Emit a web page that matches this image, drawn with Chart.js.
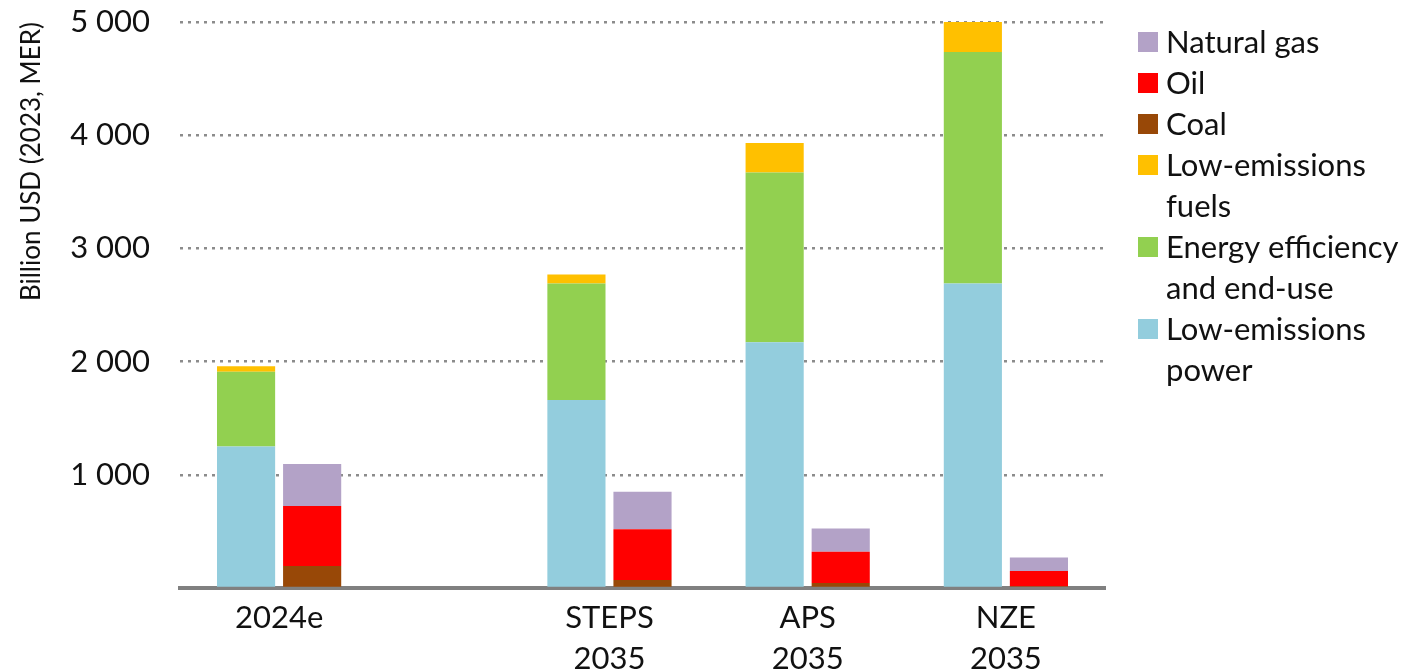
<!DOCTYPE html>
<html>
<head>
<meta charset="utf-8">
<script src="https://cdn.jsdelivr.net/npm/chart.js@4"></script>
<style>
  body { margin: 0; background: #fff; }
  #wrap { width: 1412px; height: 671px; }
</style>
</head>
<body>
<div id="wrap"><canvas id="myChart" width="1412" height="671"></canvas></div>
<script>
// cases shown on the x axis
const groups = ['2024e', ['STEPS', '2035'], ['APS', '2035'], ['NZE', '2035']];

// clean energy stack (billion USD)
const lowEmissionsPower = [1250, 1660, 2170, 2690];
const efficiencyEndUse = [660, 1030, 1500, 2045];
const lowEmissionsFuels = [50, 80, 260, 265];

// fossil fuel stack (billion USD)
const coal = [195, 70, 45, 15];
const oil = [530, 450, 275, 135];
const naturalGas = [370, 330, 205, 120];

const yTicks = [0, 1000, 2000, 3000, 4000, 5000];

// the original leaves a wider gap after 2024e, so spread the groups over narrow slots
const slotCount = 14;
const slotOf = [1, 6, 9, 12];

function toSlots(values) {
    const out = new Array(slotCount).fill(null);
    values.forEach(function (v, i) { out[slotOf[i]] = v; });
    return out;
}

const labels = toSlots(groups).map(function (l) { return l === null ? '' : l; });

const FONT = 'Lato, "Open Sans", sans-serif';

const legendPlugin = {
    id: 'sideLegend',
    afterDraw: function (chart) {
        const ctx = chart.ctx;
        const order = [5, 4, 3, 2, 1, 0];
        const boxX = 1138, textX = 1166, boxSize = 20, lineStep = 41, maxW = 255;
        let y = 42;
        ctx.save();
        ctx.font = '31px ' + FONT;
        ctx.textBaseline = 'middle';
        ctx.textAlign = 'left';
        order.forEach(function (di) {
            const ds = chart.data.datasets[di];
            // wrap words the same way the original does
            const words = ds.label.split(' ');
            const lines = [];
            let cur = '';
            words.forEach(function (w) {
                const test = cur ? cur + ' ' + w : w;
                if (cur && ctx.measureText(test).width > maxW) {
                    lines.push(cur);
                    cur = w;
                } else {
                    cur = test;
                }
            });
            lines.push(cur);
            ctx.fillStyle = ds.backgroundColor;
            ctx.fillRect(boxX, y - boxSize / 2, boxSize, boxSize);
            ctx.fillStyle = '#111';
            lines.forEach(function (ln) {
                ctx.fillText(ln, textX, y + 1);
                y += lineStep;
            });
        });
        ctx.restore();
    }
};

var ctxB = document.getElementById('myChart').getContext('2d');
var myBarChart = new Chart(ctxB, {
    type: 'bar',
    data: {
        labels: labels,
        datasets: [
            { label: 'Low-emissions power', data: toSlots(lowEmissionsPower), backgroundColor: '#93CDDD', stack: 'clean' },
            { label: 'Energy efficiency and end-use', data: toSlots(efficiencyEndUse), backgroundColor: '#92D050', stack: 'clean' },
            { label: 'Low-emissions fuels', data: toSlots(lowEmissionsFuels), backgroundColor: '#FFC000', stack: 'clean' },
            { label: 'Coal', data: toSlots(coal), backgroundColor: '#984807', stack: 'fossil' },
            { label: 'Oil', data: toSlots(oil), backgroundColor: '#FF0000', stack: 'fossil' },
            { label: 'Natural gas', data: toSlots(naturalGas), backgroundColor: '#B3A2C7', stack: 'fossil' }
        ]
    },
    options: {
        responsive: false,
        animation: false,
        categoryPercentage: 2.0,
        barPercentage: 0.88,
        layout: { padding: { left: 0, right: 307, top: 22, bottom: 0 } },
        plugins: {
            legend: { display: false },
            tooltip: { enabled: false }
        },
        scales: {
            x: {
                stacked: true,
                grid: { display: false, drawTicks: false },
                border: { display: true, color: '#808080', width: 4 },
                ticks: {
                    autoSkip: false,
                    maxRotation: 0,
                    padding: 10,
                    color: '#111',
                    font: { family: FONT, size: 31, lineHeight: 1.32 }
                },
                afterFit: function (s) { s.height = 83; s.paddingLeft = 0; s.paddingRight = 0; }
            },
            y: {
                stacked: true,
                min: 0,
                max: 5000,
                afterBuildTicks: function (s) {
                    s.ticks = yTicks.map(function (v) { return { value: v }; });
                },
                grid: {
                    drawTicks: false,
                    color: function (c) { return c.tick && c.tick.value === 0 ? 'rgba(0,0,0,0)' : '#8c8c8c'; },
                    lineWidth: 2.5
                },
                border: { display: false, dash: [3, 5] },
                ticks: {
                    padding: 30,
                    color: '#111',
                    font: { family: FONT, size: 31 },
                    callback: function (v) {
                        return v === 0 ? '' : String(v).replace(/\B(?=(\d{3})+(?!\d))/g, ' ');
                    }
                },
                title: {
                    display: true,
                    text: 'Billion USD (2023, MER)',
                    align: 'end',
                    color: '#111',
                    font: { family: FONT, size: 26 },
                    padding: { top: 16, bottom: 0 }
                },
                afterFit: function (s) { s.width = 180; s.paddingTop = 0; s.paddingBottom = 0; }
            }
        }
    },
    plugins: [legendPlugin]
});
</script>
</body>
</html>
